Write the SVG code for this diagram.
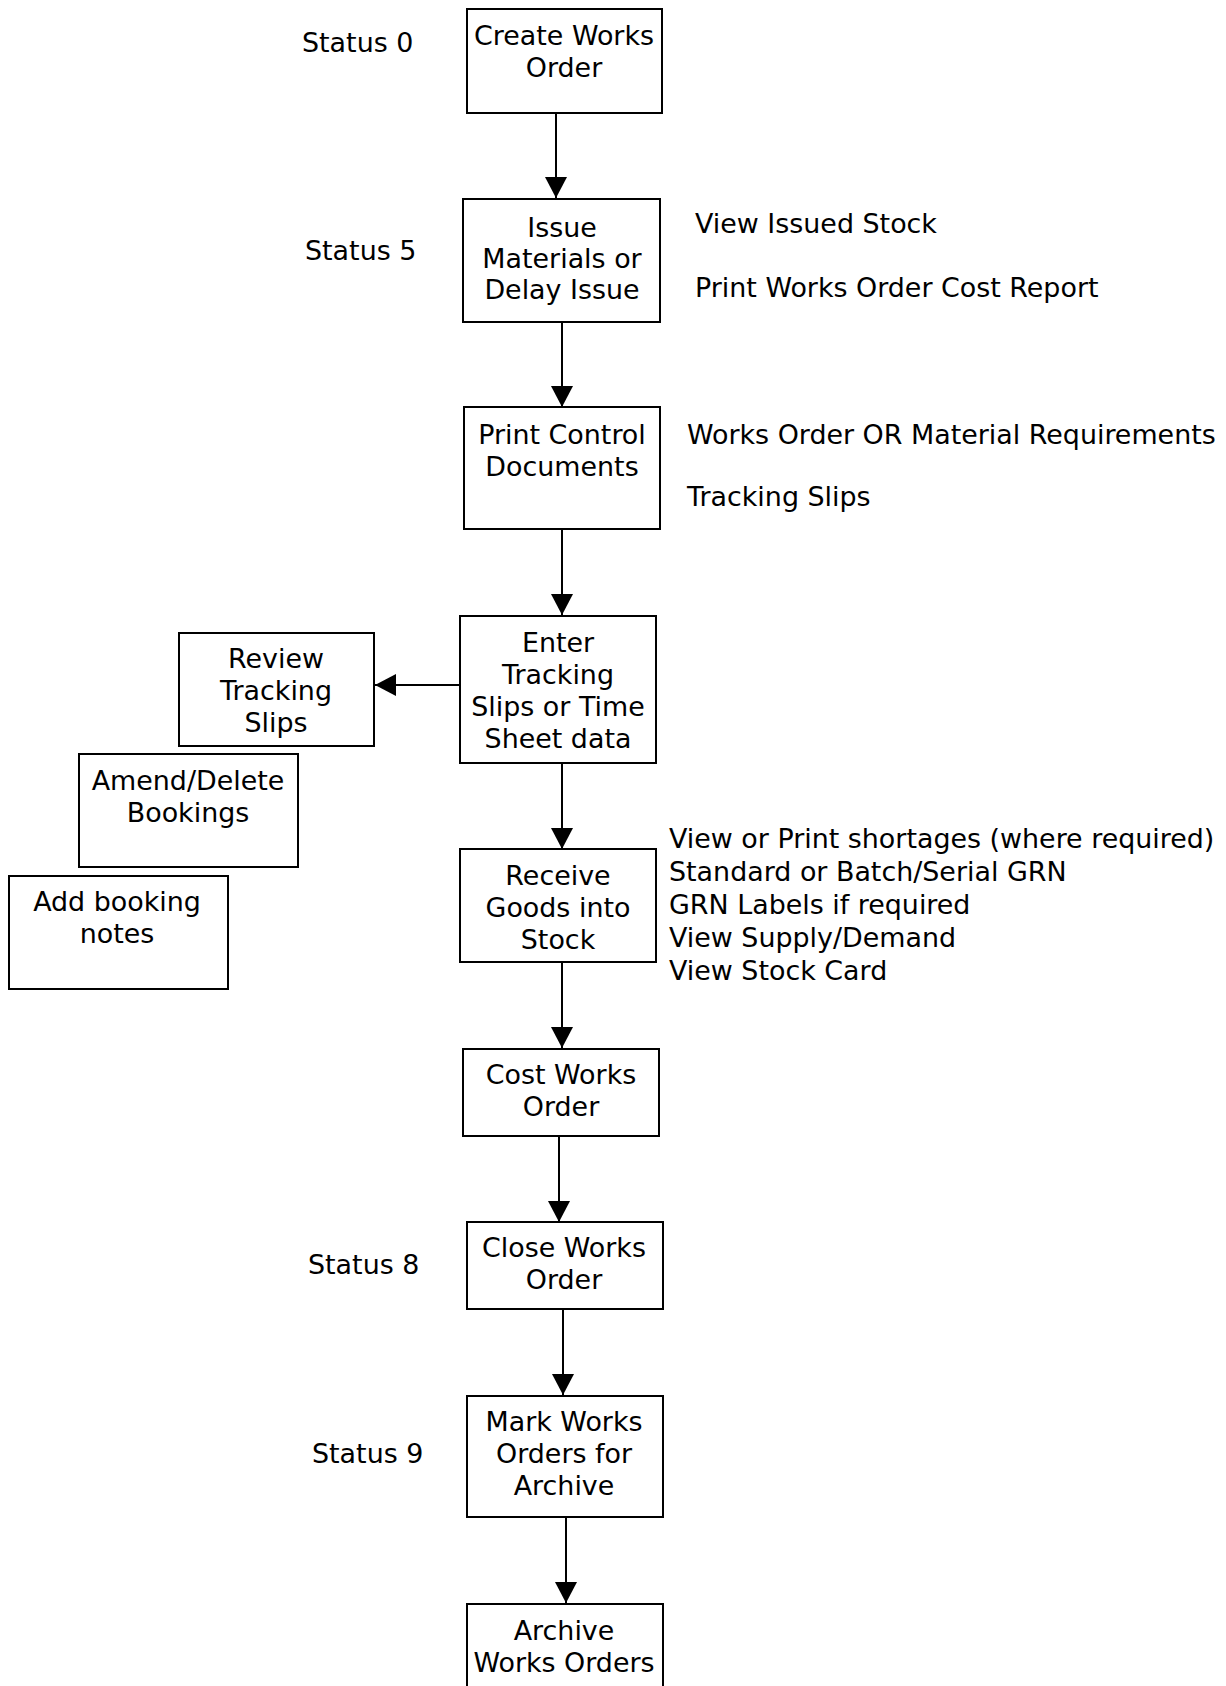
<svg xmlns="http://www.w3.org/2000/svg" width="1226" height="1686" viewBox="0 0 1226 1686">
<style>
  text { font-family: "DejaVu Sans", Verdana, sans-serif; font-size: 26.9px; fill: #000; }
  .c { text-anchor: middle; }
  .box { fill: #fff; stroke: #000; stroke-width: 2; }
  .conn { stroke: #000; stroke-width: 2; fill: none; marker-end: url(#arrow); }
</style>
<defs>
  <marker id="arrow" markerUnits="userSpaceOnUse" markerWidth="22" markerHeight="22" refX="21" refY="11" orient="auto">
    <path d="M0,0 L21,11 L0,22 z" fill="#000"/>
  </marker>
</defs>
<rect width="1226" height="1686" fill="#fff"/>

<g id="connectors">
  <line class="conn" x1="556" y1="113" x2="556" y2="198"/>
  <line class="conn" x1="562" y1="322" x2="562" y2="407"/>
  <line class="conn" x1="562" y1="529" x2="562" y2="615"/>
  <line class="conn" x1="460" y1="685" x2="375" y2="685"/>
  <line class="conn" x1="562" y1="763" x2="562" y2="849"/>
  <line class="conn" x1="562" y1="962" x2="562" y2="1048"/>
  <line class="conn" x1="559" y1="1136" x2="559" y2="1222"/>
  <line class="conn" x1="563" y1="1309" x2="563" y2="1395"/>
  <line class="conn" x1="566" y1="1517" x2="566" y2="1603"/>
</g>

<g id="status-labels">
  <text x="302" y="52">Status 0</text>
  <text x="305" y="260">Status 5</text>
  <text x="308" y="1274">Status 8</text>
  <text x="312" y="1463">Status 9</text>
</g>

<g id="create">
  <rect class="box" x="467" y="9" width="195" height="104"/>
  <text class="c" x="564" y="45">Create Works</text>
  <text class="c" x="564" y="77">Order</text>
</g>

<g id="issue">
  <rect class="box" x="463" y="199" width="197" height="123"/>
  <text class="c" x="562" y="237">Issue</text>
  <text class="c" x="562" y="268">Materials or</text>
  <text class="c" x="562" y="299">Delay Issue</text>
</g>

<g id="issue-notes">
  <text x="695" y="233">View Issued Stock</text>
  <text x="695" y="297">Print Works Order Cost Report</text>
</g>

<g id="print">
  <rect class="box" x="464" y="407" width="196" height="122"/>
  <text class="c" x="562" y="444">Print Control</text>
  <text class="c" x="562" y="476">Documents</text>
</g>

<g id="print-notes">
  <text x="687" y="444">Works Order OR Material Requirements</text>
  <text x="687" y="506">Tracking Slips</text>
</g>

<g id="enter">
  <rect class="box" x="460" y="616" width="196" height="147"/>
  <text class="c" x="558" y="652">Enter</text>
  <text class="c" x="558" y="684">Tracking</text>
  <text class="c" x="558" y="716">Slips or Time</text>
  <text class="c" x="558" y="748">Sheet data</text>
</g>

<g id="review">
  <rect class="box" x="179" y="633" width="195" height="113"/>
  <text class="c" x="276" y="668">Review</text>
  <text class="c" x="276" y="700">Tracking</text>
  <text class="c" x="276" y="732">Slips</text>
</g>

<g id="amend">
  <rect class="box" x="79" y="754" width="219" height="113"/>
  <text class="c" x="188" y="790">Amend/Delete</text>
  <text class="c" x="188" y="822">Bookings</text>
</g>

<g id="add-notes">
  <rect class="box" x="9" y="876" width="219" height="113"/>
  <text class="c" x="117" y="911">Add booking</text>
  <text class="c" x="117" y="943">notes</text>
</g>

<g id="receive">
  <rect class="box" x="460" y="849" width="196" height="113"/>
  <text class="c" x="558" y="885">Receive</text>
  <text class="c" x="558" y="917">Goods into</text>
  <text class="c" x="558" y="949">Stock</text>
</g>

<g id="receive-notes">
  <text x="669" y="848">View or Print shortages (where required)</text>
  <text x="669" y="881">Standard or Batch/Serial GRN</text>
  <text x="669" y="914">GRN Labels if required</text>
  <text x="669" y="947">View Supply/Demand</text>
  <text x="669" y="980">View Stock Card</text>
</g>

<g id="cost">
  <rect class="box" x="463" y="1049" width="196" height="87"/>
  <text class="c" x="561" y="1084">Cost Works</text>
  <text class="c" x="561" y="1116">Order</text>
</g>

<g id="close">
  <rect class="box" x="467" y="1222" width="196" height="87"/>
  <text class="c" x="564" y="1257">Close Works</text>
  <text class="c" x="564" y="1289">Order</text>
</g>

<g id="mark">
  <rect class="box" x="467" y="1396" width="196" height="121"/>
  <text class="c" x="564" y="1431">Mark Works</text>
  <text class="c" x="564" y="1463">Orders for</text>
  <text class="c" x="564" y="1495">Archive</text>
</g>

<g id="archive">
  <rect class="box" x="467" y="1604" width="196" height="110"/>
  <text class="c" x="564" y="1640">Archive</text>
  <text class="c" x="564" y="1672">Works Orders</text>
</g>
</svg>
